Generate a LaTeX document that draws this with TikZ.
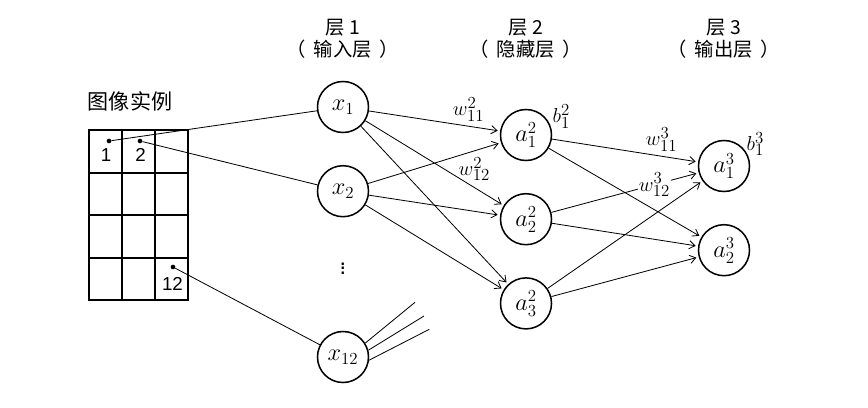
\documentclass[tikz,border=0pt]{standalone}
\usepackage{fontspec}
\setmainfont{Liberation Sans}
\newfontfamily\cjk{Noto Sans CJK SC}
\usetikzlibrary{positioning, arrows.meta}

\begin{document}
\begin{tikzpicture}[
                        x=0.03cm, y=-0.03cm,
                        neuron/.style={circle, draw, line width=1.3pt, minimum size=1.53cm, inner sep=0pt, font=\fontsize{22}{24}\selectfont},
                        layer_label/.style={align=center, font=\cjk\fontsize{16.5}{18.7}\selectfont},
                        weight/.style={font=\fontsize{19}{21}\selectfont, inner sep=1pt},
                        pixel/.style={circle, fill, inner sep=0pt, minimum size=4pt},
                        pixel_label/.style={font=\fontsize{16}{18}\selectfont, inner sep=0pt},
                        grid_line/.style={line width=1.6pt},
                        conn/.style={line width=0.7pt},
                        node distance=0.95cm and 4cm,
                        >={Straight Barb[length=5pt, width=7pt]},
                    ]
                        \useasboundingbox (0,0) rectangle (868,407);
                        \coordinate (top) at (0,39);

                        % image grid
                        \node[layer_label, font=\cjk\fontsize{18}{20}\selectfont] (image_label) at (130,101) {图像实例};
                        \draw[grid_line] (89,130) rectangle (188,300.4);
                        \foreach \c in {1,2} {
                            \draw[grid_line] (89+33*\c,130) -- (89+33*\c,300.4);
                        }
                        \foreach \r in {1,2,3} {
                            \draw[grid_line] (89,130+42.6*\r) -- (188,130+42.6*\r);
                        }
                        \node[pixel] (p1) at (109,141) {};
                        \node[pixel] (p2) at (140,141) {};
                        \node[pixel] (p12) at (173,267) {};
                        \node[pixel_label] (p1_label) at (106,155) {1};
                        \node[pixel_label] (p2_label) at (140.5,155) {2};
                        \node[pixel_label] (p12_label) at (172.5,283.5) {12};

                        %nodes
                        \node[neuron] (x1) at (343,107) {$x_1$};
                        \node[neuron] (x2) [below=of x1] {$x_2$};
                        \node (dots) at (343,265) {\fontsize{20}{22}\selectfont$\vdots$};
                        \node[neuron] (x12) at (343,357) {$x_{12}$};

                        \node[neuron] (a12) at (526,135) {$a^{2}_{1}$};
                        \node[neuron] (a22) [below=of a12] {$a^{2}_{2}$};
                        \node[neuron] (a32) [below=of a22] {$a^{2}_{3}$};

                        \node[neuron] (a13) at (724,166) {$a^{3}_{1}$};
                        \node[neuron] (a23) [below=of a13] {$a^{3}_{2}$};

                        \node[weight] (b12) [right=0.2cm of a12.north east] {$b^{2}_{1}$};
                        \node[weight] (b13) [right=0.08cm of a13.north east, yshift=0.1cm] {$b^{3}_{1}$};

                        % labels
                        \node[layer_label] (layer1_label) at (x1 |- top) {层 1\\（\hspace{0.4em}输入层\hspace{0.4em}）};
                        \node[layer_label] (layer2_label) at (a12 |- top) {层 2\\（\hspace{0.4em}隐藏层\hspace{0.4em}）};
                        \node[layer_label] (layer3_label) at (a13 |- top) {层 3\\（\hspace{0.4em}输出层\hspace{0.4em}）};

                        % connections
                        \draw[conn] (p1) -- (x1);
                        \draw[conn] (p2) -- (x2);
                        \draw[conn] (p12) -- (x12);

                        \draw[conn, ->, shorten >=2pt] (x1) -- (a12)
                            node[weight, pos=0.76, above=3pt] {$w^{2}_{11}$};
                        \draw[conn, ->, shorten >=2pt] (x2) -- (a12)
                            node[weight, pos=0.8, below=4pt] {$w^{2}_{12}$};
                        \foreach \s in {1,2} {
                            \draw[conn, ->, shorten >=2pt] (x\s) -- (a22);
                            \draw[conn, ->, shorten >=2pt] (x\s) -- (a32);
                        }

                        \coordinate (stub1) at (415,302.3);
                        \coordinate (stub2) at (424,316);
                        \coordinate (stub3) at (429.3,329.3);
                        \draw[conn] (x12.32) -- (stub1);
                        \draw[conn] (x12.15) -- (stub2);
                        \draw[conn] (x12.-7) -- (stub3);

                        \draw[conn, ->, shorten >=2pt] (a12) -- (a13)
                            node[weight, pos=0.75, above=3pt] {$w^{3}_{11}$};
                        \draw[conn, ->, shorten >=2pt] (a22) -- (a13)
                            node[weight, pos=0.7, fill=white] {$w^{3}_{12}$};
                        \draw[conn, ->, shorten >=2pt] (a32) -- (a13);
                        \foreach \h in {12,22,32} {
                            \draw[conn, ->, shorten >=2pt] (a\h) -- (a23);
                        }
                    \end{tikzpicture}
\end{document}
